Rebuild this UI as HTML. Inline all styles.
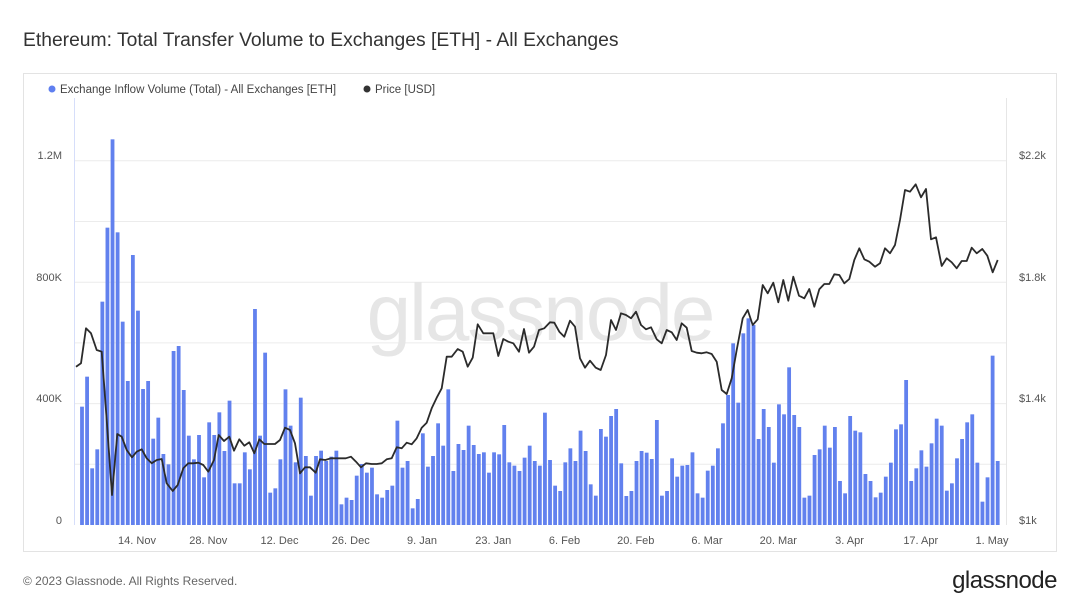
<!DOCTYPE html>
<html><head><meta charset="utf-8"><style>
body{margin:0;background:#fff;width:1080px;height:608px;overflow:hidden;font-family:"Liberation Sans",sans-serif;}
</style></head><body>
<svg id="s" width="1080" height="608" xmlns="http://www.w3.org/2000/svg" font-family="Liberation Sans, sans-serif">
<text x="23" y="46" font-size="19.3" fill="#333">Ethereum: Total Transfer Volume to Exchanges [ETH] - All Exchanges</text>
<rect x="23.5" y="73.5" width="1033" height="478" fill="none" stroke="#e3e3e3"/>
<circle cx="52" cy="89" r="3.5" fill="#5f7ff0"/>
<text x="60" y="93" font-size="11.5" fill="#444">Exchange Inflow Volume (Total) - All Exchanges [ETH]</text>
<circle cx="367" cy="89" r="3.5" fill="#333"/>
<text x="375" y="93" font-size="11.5" fill="#444">Price [USD]</text>
<g stroke="#ececec" stroke-width="1" id="grid"></g>
<text x="540" y="340" font-size="80" fill="#e6e6e6" text-anchor="middle" letter-spacing="-2">glassnode</text>
<line x1="74.5" y1="98" x2="74.5" y2="525" stroke="#d6defa"/>
<line x1="1006.5" y1="98" x2="1006.5" y2="525" stroke="#e6e6e6"/>
<g id="bars" fill="#6281ee"></g>
<polyline id="price" fill="none" stroke="#2b2b2b" stroke-width="1.8" stroke-linejoin="round"/>
<g font-size="11" fill="#555" text-anchor="end">
<text x="62" y="159">1.2M</text><text x="62" y="281">800K</text><text x="62" y="402">400K</text><text x="62" y="524">0</text>
</g>
<g font-size="11" fill="#555">
<text x="1019" y="159">$2.2k</text><text x="1019" y="281">$1.8k</text><text x="1019" y="402">$1.4k</text><text x="1019" y="524">$1k</text>
</g>
<g font-size="11" fill="#555" text-anchor="middle" id="xl"></g>
<text x="23" y="585" font-size="12" fill="#666">© 2023 Glassnode. All Rights Reserved.</text>
<text x="1057" y="588" font-size="24" fill="#222" text-anchor="end" letter-spacing="-0.5">glassnode</text>
</svg>
<script>
var NS="http://www.w3.org/2000/svg";
function el(t,a,p){var e=document.createElementNS(NS,t);for(var k in a)e.setAttribute(k,a[k]);p.appendChild(e);return e;}
var g=document.getElementById('grid');
for(var j=1;j<=6;j++){var y=525-j*60.7;el('line',{x1:75,x2:1006,y1:y,y2:y},g);}
var z1=[830,740,1015,958,515,293,28,307,575,753,375,542,777,753,926,863,972,1003,663,648,780,917,988,915,1042,877,915,847,963,812,1060,1060,967,1018,537,917,668,1088,1075,988,778,887,997,803,978,1097,978,962,993,980,962,1123,1103,1110,1037,1002,1028,1013,1093,1103,1080];
var z2=[1067,872,1013,993,1135,1107,910,1010,978,880,947,778,1023,942,960,887,945,972,967,1028,967,973,885,997,1007,1023,983,947,993,1007,848,990,1067,1083,997,955,993,902,963,1063,1097,897,920,858,837,1000,1098,1083,993,963,968,987,870,1097,1083,985,1040,1007,1005,967,1090];
var z3=[1103,1022,1007,955,880,795,640,818,610,565,585,927,837,891,998,823,853,712,855,891,1103,1097,975,958,887,953,891,1053,1090,858,902,907,1032,1053,1102,1088,1040,998,898,883,750,1053,1015,961,1010,940,866,887,1082,1060,985,927,877,853,998,1115,1042,677,993];
var all=z1.concat(z2,z3),b=document.getElementById('bars'),n=all.length,sp=(997.7-82)/(n-1);
for(var i=0;i<n;i++){var h=(1185-all[i])/3;el('rect',{x:82+sp*i-1.9,y:525-h,width:3.8,height:h},b);}
var p1=[[18,710],[33,700],[48,595],[63,610],[80,660],[95,665],[110,870],[126,1095],[142,912],[155,920],[170,960],[186,982],[200,965],[215,958],[230,985],[245,1000],[260,990],[275,987],[290,1060],[308,1083],[323,1065],[340,1015],[355,1000],[370,1000],[385,998],[400,1005],[415,1025],[432,990],[446,915],[462,933],[478,920],[492,962],[508,928],[523,947],[538,937],[553,970],[568,928],[583,942],[600,942],[615,942],[630,930],[645,893],[660,900],[675,940],[690,1030],[705,1012],[720,1012],[737,1028],[750,988],[766,990],[782,985],[797,985],[812,985],[827,985],[843,980],[858,995],[873,1012],[888,1000],[905,1002],[920,1002],[935,1000],[950,988]];
var p2=[[20,988],[35,985],[50,952],[65,955],[80,938],[95,943],[110,925],[125,893],[140,878],[155,835],[170,803],[185,775],[200,680],[215,680],[233,657],[248,665],[263,710],[278,683],[293,583],[310,610],[325,610],[340,610],[355,678],[370,627],[385,635],[400,640],[417,665],[432,597],[447,668],[462,650],[477,600],[493,595],[510,577],[523,578],[538,605],[553,620],[570,572],[585,590],[600,685],[615,713],[630,692],[647,713],[662,720],[678,675],[693,570],[708,600],[723,550],[738,555],[753,565],[768,545],[783,585],[798,598],[813,592],[830,628],[845,640],[860,600],[875,607],[890,630],[905,580],[920,593],[935,663]];
var p3=[[20,668],[35,670],[50,667],[65,672],[80,695],[95,780],[110,792],[125,745],[140,660],[158,565],[173,540],[188,585],[203,568],[218,465],[233,490],[250,458],[265,517],[280,450],[295,512],[310,440],[327,497],[343,505],[358,477],[373,530],[388,478],[403,462],[418,462],[433,433],[448,435],[463,460],[478,447],[493,390],[508,355],[523,388],[538,395],[555,410],[570,400],[585,355],[600,370],[615,345],[630,270],[645,180],[660,185],[677,163],[693,202],[708,177],[723,328],[738,322],[755,408],[770,385],[785,397],[800,415],[815,393],[830,393],[845,353],[860,370],[877,357],[892,377],[908,427],[923,390]];
var pts=[];
p1.forEach(function(q){pts.push((70+q[0]/3).toFixed(1)+','+(130+q[1]/3).toFixed(1));});
p2.forEach(function(q){pts.push((380+q[0]/3).toFixed(1)+','+(130+q[1]/3).toFixed(1));});
p3.forEach(function(q){pts.push((690+q[0]/3).toFixed(1)+','+(130+q[1]/3).toFixed(1));});
document.getElementById('price').setAttribute('points',pts.join(' '));
var xl=document.getElementById('xl'),labs=['14. Nov','28. Nov','12. Dec','26. Dec','9. Jan','23. Jan','6. Feb','20. Feb','6. Mar','20. Mar','3. Apr','17. Apr','1. May'];
for(var k=0;k<labs.length;k++){var x=137+k*71.25;var t=el('text',{x:x,y:544},xl);t.textContent=labs[k];}
</script>
</body></html>
